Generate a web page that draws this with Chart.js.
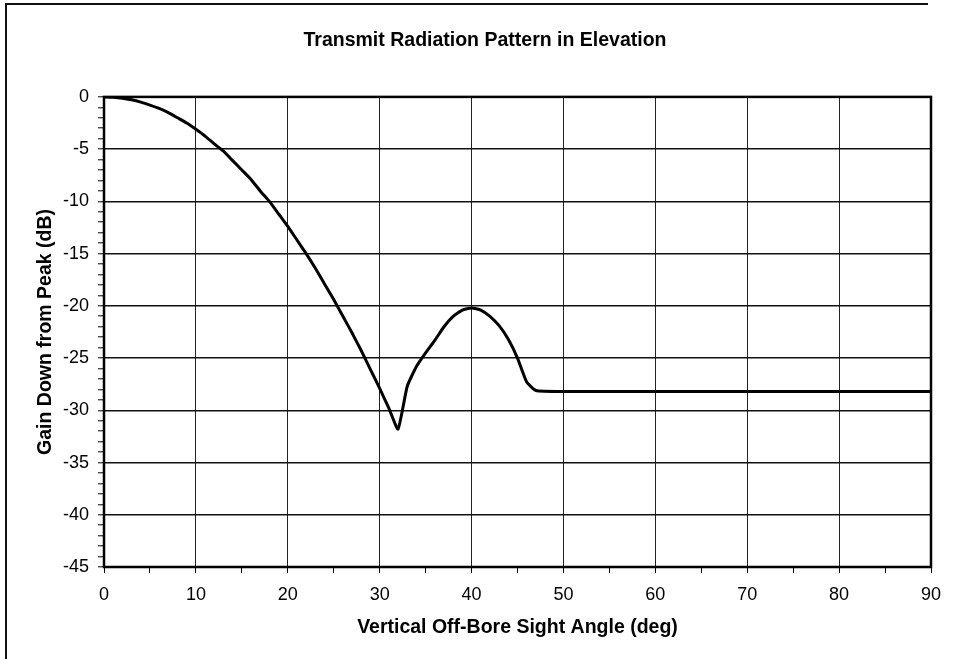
<!DOCTYPE html>
<html>
<head>
<meta charset="utf-8">
<script src="https://cdn.jsdelivr.net/npm/chart.js@4/dist/chart.umd.min.js"></script>
<style>
  html, body { margin: 0; padding: 0; background: #fff; }
  canvas { display: block; }
</style>
</head>
<body>
<canvas id="patternChart" width="956" height="659"></canvas>
<script>
// =============================================================================
// DATA
// =============================================================================
const angleDeg = [
  0, 1, 2, 3, 4, 5, 6, 7, 8, 9,
  10, 11, 12, 13, 14, 15, 16, 17, 18, 19,
  20, 21, 22, 23, 24, 25, 26, 27, 28, 29,
  30, 31, 32, 33, 34, 35, 36, 37, 38, 39,
  40, 41, 42, 43, 44, 45, 46, 47, 50, 60,
  70, 80, 90
];
const gainDb = [
  0, -0.03, -0.12, -0.28, -0.5, -0.78, -1.1, -1.5, -2.0, -2.5,
  -3.1, -3.75, -4.5, -5.2, -6.1, -7.0, -7.9, -9.0, -10.0, -11.2,
  -12.4, -13.7, -15.0, -16.4, -17.9, -19.4, -21.0, -22.6, -24.3, -26.1,
  -27.9, -29.8, -31.8, -27.7, -25.8, -24.5, -23.3, -22.0, -21.0, -20.4,
  -20.2, -20.4, -21.0, -21.9, -23.2, -25.0, -27.3, -28.1, -28.2, -28.2,
  -28.2, -28.2, -28.2
];
const xTickValues = [0, 10, 20, 30, 40, 50, 60, 70, 80, 90];
const yTickValues = [0, -5, -10, -15, -20, -25, -30, -35, -40, -45];

const chartTitle = 'Transmit Radiation Pattern in Elevation';
const xTitle = 'Vertical Off-Bore Sight Angle (deg)';
const yTitle = 'Gain Down from Peak (dB)';

// =============================================================================
// CHART
// =============================================================================
Chart.defaults.font.family = "'Liberation Sans', Arial, sans-serif";
Chart.defaults.color = '#000';

const isMajorX = v => xTickValues.includes(v);
const isMajorY = v => yTickValues.includes(v);

// plot frame + the figure's outer frame
const framePlugin = {
  id: 'frames',
  beforeDraw(chart) {
    const ctx = chart.ctx;
    ctx.save();
    ctx.fillStyle = '#fff';
    ctx.fillRect(0, 0, chart.width, chart.height);
    ctx.strokeStyle = '#111';
    ctx.lineWidth = 2;
    ctx.beginPath();
    ctx.moveTo(6, chart.height);
    ctx.lineTo(6, 4);
    ctx.lineTo(928, 4);
    ctx.stroke();
    ctx.restore();
  },
  afterDatasetsDraw(chart) {
    const { ctx, chartArea: a } = chart;
    ctx.save();
    ctx.strokeStyle = '#000';
    ctx.lineWidth = 2.5;
    ctx.strokeRect(a.left, a.top, a.right - a.left, a.bottom - a.top);
    ctx.restore();
  }
};

const ctx = document.getElementById('patternChart').getContext('2d');
const chart = new Chart(ctx, {
  type: 'line',
  data: {
    datasets: [{
      label: 'Gain',
      data: angleDeg.map((a, i) => ({ x: a, y: gainDb[i] })),
      borderColor: '#000',
      borderWidth: 3,
      pointRadius: 0,
      tension: 0.15,
      fill: false
    }]
  },
  options: {
    responsive: false,
    animation: false,
    layout: { padding: { left: 39, right: 25, top: 0, bottom: 0 } },
    plugins: {
      legend: { display: false },
      tooltip: { enabled: false },
      title: {
        display: true,
        text: chartTitle,
        font: { size: 19.5, weight: 'bold' },
        padding: { top: 29, bottom: 44.5 }
      }
    },
    scales: {
      x: {
        type: 'linear',
        min: 0,
        max: 90,
        afterFit: s => { s.height = 92; },
        ticks: {
          stepSize: 5,
          autoSkip: false,
          maxRotation: 0,
          padding: 11,
          font: { size: 18 },
          callback: v => isMajorX(v) ? String(v) : ''
        },
        grid: {
          color: c => isMajorX(c.tick.value) ? '#222' : 'rgba(0,0,0,0)',
          lineWidth: 1,
          tickColor: '#000',
          tickWidth: 1,
          tickLength: 6
        },
        border: { display: false },
        title: {
          display: true,
          text: xTitle,
          font: { size: 19.5, weight: 'bold' },
          padding: { top: 0, bottom: 20 }
        }
      },
      y: {
        type: 'linear',
        min: -45,
        max: 0,
        afterFit: s => { s.width = 65; },
        ticks: {
          stepSize: 1,
          autoSkip: false,
          padding: 9,
          font: { size: 18 },
          callback: v => isMajorY(v) ? String(v) : ''
        },
        grid: {
          color: c => isMajorY(c.tick.value) ? '#111' : 'rgba(0,0,0,0)',
          lineWidth: 1.6,
          tickColor: '#000',
          tickWidth: 1,
          tickLength: 6
        },
        border: { display: false },
        title: {
          display: true,
          text: yTitle,
          font: { size: 19.5, weight: 'bold' },
          padding: { top: -4.7, bottom: 0 }
        }
      }
    }
  },
  plugins: [framePlugin]
});
</script>
</body>
</html>
